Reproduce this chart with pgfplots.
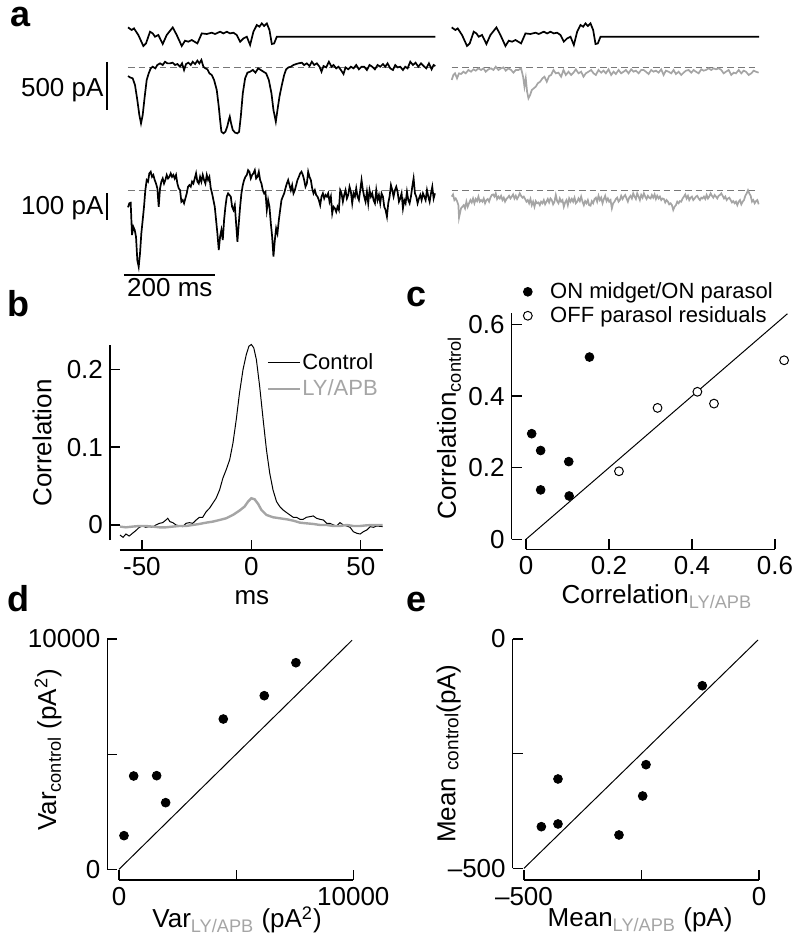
\documentclass[border=0pt]{standalone}
\usepackage{fontspec}
\setmainfont{Liberation Sans}
\usepackage{pgfplots}
\usepackage{pgfplotstable}
\pgfplotsset{compat=1.18}
\definecolor{ltgray}{RGB}{165,165,165}
\definecolor{dashgray}{RGB}{120,120,120}
\newcommand\lf{\fontsize{13}{15}\selectfont}

\pgfplotsset{
  fig/.style={
    scale only axis, anchor=south west, clip=false,
    axis lines=left,
    axis line style={-, line width=0.65pt},
    tick align=inside, major tick length=5pt,
    every tick/.style={black, line width=0.65pt},
    tick label style={font=\lf},
    /pgf/number format/assume math mode=true,
    scaled ticks=false,
  },
  xlab/.style={every axis x label/.style={at={(axis description cs:#1)}, anchor=center, font=\lf}},
  ylab/.style={every axis y label/.style={at={(axis description cs:#1)}, anchor=center, rotate=90, font=\lf}},
  trace/.style={hide axis, clip=false, anchor=south west, x=0.2275pt},
  base/.style={dashgray, line width=0.6pt, dash pattern=on 3.3pt off 2pt},
}

% stimulus (arbitrary units), same for both conditions
\pgfplotstableread{
t s
0 9.3
8.1 6.7
13.2 8.3
22.7 1.7
33.7 -9.3
39.6 -6.7
48.4 5
54.3 3.3
59.4 0
66.7 1.7
76.3 -7.3
85.1 1.7
98.3 9.3
107.1 1.7
118.1 -9.3
125.4 -4
132.7 -5
140.1 -3.3
152.5 -6.7
162.1 3.3
173.1 2.7
184.1 4
191.4 2.7
202.4 5
209.7 3.3
217.1 5
224.4 3.3
231.7 4
239.1 1.7
246.4 -5
253.7 -1.7
261.1 0
268.4 -8.3
275.7 5
283.1 11.7
288.9 10
294.1 13.3
299.2 10.7
305.1 13.3
310.9 6.7
316.1 -7.3
321.2 -6.7
327.1 0
675.4 0
}\stimtable

\begin{document}
\begin{tikzpicture}
\begin{scope}[x=0.5pt,y=-0.5pt]
\path[use as bounding box] (0,0) rectangle (800,943);
\foreach \l/\xx/\yy in {a/21/17,b/18/304,c/417/297,d/18/599,e/417/602}
  \node[font=\bfseries\fontsize{18}{18}\selectfont] at (\xx,\yy) {\l};
\end{scope}

% ---------- panel a: stimulus ----------
\begin{axis}[trace, y=0.5pt, at={(64pt,-25.85pt)}, xmin=0, xmax=676, ymin=-15, ymax=15]
\addplot[black, line width=0.85pt] table {\stimtable};
\end{axis}
\begin{axis}[trace, y=0.5pt, at={(225.85pt,-25.85pt)}, xmin=0, xmax=676, ymin=-15, ymax=15]
\addplot[black, line width=0.85pt] table {\stimtable};
\end{axis}

% ---------- panel a: ON midget, control / LY-APB ----------
\begin{axis}[trace, y=0.048pt, at={(50.35pt,-68.4pt)}, xmin=-60, xmax=680, ymin=-720, ymax=100]
\addplot[base] coordinates {(0,0) (675,0)};
\addplot[black, line width=0.85pt] coordinates {
(0,-87)(4.4,-101)(10.3,-111)(15.4,-181)(20.5,-337)(24.9,-493)(28.6,-580)(32.3,-493)(36.7,-302)(41.1,-128)
(45.5,-59)(49.9,-7)(54.3,10)(60.1,-7)(64.5,28)(70.4,45)(76.3,28)(81.4,62)(86.5,45)(92.4,45)(98.3,52)
(103.4,28)(108.5,38)(114.4,10)(118.8,45)(123.2,-24)(127.6,38)(132.7,52)(137.9,28)(142.3,62)(147.4,38)
(152.5,73)(156.9,45)(161.3,80)(165.7,10)(170.1,-7)(174.5,-17)(178.9,-59)(184.1,-76)(189.2,-128)(195.1,-233)
(199.5,-406)(202.4,-545)(205.3,-667)(209.7,-684)(214.1,-667)(218.5,-608)(221.5,-545)(223.7,-510)(226.6,-580)
(230.3,-649)(235.4,-677)(240.5,-684)(244.2,-667)(247.9,-510)(252.3,-267)(257.4,-111)(262.5,-52)(268.4,-42)
(274.3,-24)(280.1,-52)(286,-7)(291.9,-24)(297.7,-42)(303.6,-59)(309.5,-128)(315.3,-267)(319.7,-441)
(324.9,-562)(328.5,-441)(332.9,-302)(338.1,-181)(343.2,-76)(347.6,-17)(352.7,3)(357.9,10)(363.7,28)
(369.6,38)(374.7,45)(382.1,52)(387.2,28)(393.1,45)(398.9,17)(404.1,62)(409.2,28)(415.1,45)(420.9,10)
(425.3,-42)(429.7,17)(435.6,3)(441.5,62)(447.3,10)(451.7,28)(457.6,-7)(462.7,10)(467.9,-24)(473.7,-66)
(478.1,3)(484,-17)(489.9,10)(495.7,-7)(501.6,28)(507.5,-17)(513.3,10)(519.2,10)(525.1,-24)(530.9,28)
(536.8,10)(542.7,-17)(548.5,28)(554.4,10)(560.3,38)(565.4,10)(570.5,45)(576.4,-7)(582.3,-24)(587.4,28)
(592.5,3)(598.4,10)(604.3,-24)(609.4,10)(614.5,-7)(620.4,62)(626.3,28)(632.1,52)(638,10)(643.9,45)
(649.7,17)(655.6,-7)(661.4,45)(667.3,-17)(671.7,28)(675.4,17)};
\draw[line width=0.7pt] (axis cs:-46,60) -- (axis cs:-46,-440);
\node[anchor=east, inner sep=0pt, font=\lf] at (axis cs:-53,-232) {500 pA};
\end{axis}
\begin{axis}[trace, y=0.048pt, at={(225.85pt,-68.4pt)}, xmin=0, xmax=680, ymin=-720, ymax=100]
\addplot[base] coordinates {(0,0) (675,0)};
\addplot[ltgray, line width=0.85pt] coordinates {
(0,-128)(3.7,-76)(7.3,-59)(11.7,-111)(16.1,-59)(20.5,-66)(25.7,-42)(30.8,-59)(36.7,-24)(42.5,-42)
(47.7,-17)(52.8,-31)(58.7,-7)(64.5,-24)(69.7,-7)(74.8,-42)(80.7,-17)(86.5,-7)(91.7,-24)(96.8,10)
(102.7,-24)(108.5,-7)(113.7,3)(118.8,-31)(124.7,-7)(130.5,-24)(135.7,-52)(140.8,-24)(146.7,-24)(152.5,-7)
(156.9,-94)(159.9,-198)(162.8,-111)(165.7,-250)(168.7,-319)(172.3,-285)(176,-233)(180.4,-215)(184.8,-198)
(189.2,-163)(194.3,-146)(199.5,-111)(203.9,-94)(209,-146)(214.1,-87)(218.5,-76)(223.7,-24)(228.8,-59)
(234.7,-52)(240.5,-94)(245.7,-24)(250.8,-76)(256.7,-42)(262.5,-76)(267.7,-52)(272.8,-17)(278.7,-59)
(284.5,-42)(289.7,-94)(294.8,-59)(300.7,-42)(306.5,-24)(311.7,-59)(316.8,-76)(322.7,-24)(328.5,-52)
(333.7,-31)(338.8,-59)(344.7,-17)(350.5,-76)(355.7,-42)(360.8,-66)(366.7,-24)(372.5,-59)(377.7,-42)
(382.8,-24)(388.7,-59)(394.5,-17)(399.7,-42)(404.8,-31)(410.7,-59)(416.5,-24)(421.7,-24)(426.8,-42)
(432.7,-66)(438.5,-24)(443.7,-42)(448.8,-31)(454.7,-52)(460.5,-17)(465.7,-76)(470.8,-31)(476.7,-42)
(482.5,-59)(487.7,-24)(492.8,-66)(498.7,-42)(504.5,-76)(509.7,-52)(514.8,-31)(520.7,-24)(526.5,-52)
(531.7,-24)(536.8,-42)(542.7,-59)(548.5,-17)(553.7,-31)(558.8,-24)(564.7,-7)(570.5,-24)(575.7,-7)
(580.8,-17)(586.7,-7)(592.5,-24)(597.7,-59)(602.8,-42)(608.7,-24)(614.5,-76)(619.7,-52)(624.8,-59)
(630.7,-24)(636.5,-59)(641.7,-31)(646.8,-42)(652.7,-76)(658.5,-59)(663.7,-31)(668.8,-42)(674.7,-52)};
\end{axis}

% ---------- panel a: OFF parasol, control / LY-APB ----------
\begin{axis}[trace, y=0.1335pt, at={(50.35pt,-140.75pt)}, xmin=-60, xmax=680, ymin=-340, ymax=100]
\addplot[base] coordinates {(0,0) (675,0)};
\addplot[black, line width=0.85pt] coordinates {
(0,-62)(2.9,-47)(5.9,-45)(8.8,-166)(11.7,-135)(14.7,-147)(17.6,-172)(20.5,-260)(23.5,-285)(26.4,-235)
(29.3,-160)(32.3,-110)(35.2,-60)(38.1,2)(41.1,40)(44,34)(46.9,65)(49.9,71)(52.8,52)(55.7,59)
(58.7,40)(61.6,27)(64.5,9)(67.5,-60)(70.4,9)(73.3,34)(76.3,46)(79.2,27)(82.1,40)(85.1,59)
(88,46)(90.9,52)(93.9,65)(96.8,52)(99.7,59)(102.7,46)(105.6,59)(108.5,27)(111.5,9)(114.4,2)
(117.3,-41)(120.3,-35)(123.2,-47)(126.1,-29)(129.1,-10)(132,15)(134.9,21)(137.9,15)(140.8,34)(143.7,27)
(146.7,46)(149.6,65)(152.5,34)(155.5,27)(158.4,52)(161.3,34)(164.3,59)(167.2,40)(170.1,27)(173.1,59)
(176,40)(178.9,52)(181.9,9)(184.8,-10)(187.7,-35)(190.7,-60)(193.6,-110)(196.5,-160)(199.5,-222)(202.4,-172)
(205.3,-147)(208.3,-185)(211.2,-110)(214.1,-60)(217.1,-22)(220,-10)(222.9,-16)(225.9,-22)(228.8,-60)(231.7,-72)
(234.7,-54)(237.6,-122)(240.5,-191)(243.5,-122)(246.4,-60)(249.3,-10)(252.3,21)(255.2,40)(258.1,52)(261.1,59)
(264,77)(266.9,71)(269.9,46)(272.8,59)(275.7,65)(278.7,77)(281.6,46)(284.5,52)(287.5,71)(290.4,40)
(293.3,27)(296.3,2)(299.2,-10)(302.1,-4)(305.1,-72)(308,-35)(310.9,-60)(313.9,-122)(316.8,-172)(319.7,-247)
(322.7,-185)(325.6,-141)(328.5,-160)(331.5,-110)(334.4,-72)(337.3,-35)(340.3,-22)(343.2,-10)(346.1,9)(349.1,27)
(352,40)(354.9,21)(357.9,2)(360.8,21)(363.7,-10)(366.7,2)(369.6,21)(372.5,40)(375.5,52)(378.4,65)
(381.3,71)(384.3,59)(387.2,40)(390.1,15)(393.1,27)(396,71)(398.9,52)(401.9,40)(404.8,9)(407.7,-10)
(410.7,2)(413.6,-16)(416.5,-22)(419.5,-35)(422.4,-54)(425.3,-22)(428.3,-10)(431.2,-29)(434.1,-16)(437.1,-22)
(440,-10)(442.9,-41)(445.9,-22)(448.8,-85)(451.7,-60)(454.7,-66)(457.6,-79)(460.5,-60)(463.5,-72)(466.4,2)
(469.3,-10)(472.3,-41)(475.2,-16)(478.1,2)(481.1,-29)(484,-16)(486.9,15)(489.9,-4)(492.8,-47)(495.7,-10)
(498.7,-22)(501.6,9)(504.5,-22)(507.5,-35)(510.4,2)(513.3,40)(516.3,2)(519.2,-22)(522.1,-41)(525.1,-4)
(528,-47)(530.9,2)(533.9,-22)(536.8,-10)(539.7,-35)(542.7,-47)(545.6,2)(548.5,-35)(551.5,-16)(554.4,-47)
(557.3,-10)(560.3,-22)(563.2,-60)(566.1,-72)(569.1,-97)(572,-47)(574.9,-22)(577.9,21)(580.8,2)(583.7,-22)
(586.7,2)(589.6,15)(592.5,-4)(595.5,-41)(598.4,-29)(601.3,-10)(604.3,-66)(607.2,-35)(610.1,-47)(613.1,-4)
(616,-35)(618.9,-47)(621.9,-22)(624.8,15)(627.7,46)(630.7,-10)(633.6,-22)(636.5,-47)(639.5,-29)(642.4,-16)
(645.3,-35)(648.3,-10)(651.2,-22)(654.1,-35)(657.1,2)(660,-22)(662.9,-41)(665.9,-10)(668.8,15)(671.7,-29)
(674.7,-10)};
\draw[line width=0.7pt] (axis cs:-46,-9) -- (axis cs:-46,-109);
\node[anchor=east, inner sep=0pt, font=\lf] at (axis cs:-53,-65) {100 pA};
\draw[line width=0.7pt] (axis cs:-9,-316) -- (axis cs:191,-316);
\node[font=\lf] at (axis cs:92,-364) {200 ms};
\end{axis}
\begin{axis}[trace, y=0.1335pt, at={(225.85pt,-140.75pt)}, xmin=0, xmax=680, ymin=-340, ymax=100]
\addplot[base] coordinates {(0,0) (675,0)};
\addplot[ltgray, line width=0.85pt] coordinates {
(0,-22)(2.9,-14)(5.9,-35)(8.8,-29)(11.7,-39)(14.7,-54)(16.1,-101)(20.5,-66)(23.5,-60)(26.4,-54)
(29.3,-66)(32.3,-41)(35.2,-60)(38.1,-47)(41.1,-35)(44,-44)(46.9,-29)(49.9,-47)(52.8,-31)(55.7,-39)
(58.7,-22)(61.6,-41)(64.5,-35)(67.5,-41)(70.4,-29)(73.3,-47)(76.3,-35)(79.2,-31)(82.1,-41)(85.1,-26)
(88,-16)(90.9,-14)(93.9,-22)(96.8,-10)(99.7,-31)(102.7,-22)(105.6,-29)(108.5,-19)(111.5,-35)(114.4,-26)
(117.3,-41)(120.3,-31)(123.2,-26)(126.1,-19)(129.1,-29)(132,-22)(134.9,-14)(137.9,-29)(140.8,-19)(143.7,-31)
(146.7,-22)(149.6,-10)(152.5,-19)(155.5,-26)(158.4,-22)(161.3,-31)(164.3,-41)(167.2,-35)(170.1,-47)(173.1,-31)
(176,-54)(178.9,-41)(181.9,-60)(184.8,-39)(187.7,-47)(190.7,-44)(193.6,-54)(196.5,-41)(199.5,-47)(202.4,-35)
(205.3,-51)(208.3,-41)(211.2,-31)(214.1,-44)(217.1,-29)(220,-35)(222.9,-51)(225.9,-41)(228.8,-16)(231.7,-39)
(234.7,-47)(237.6,-29)(240.5,-41)(243.5,-35)(246.4,-60)(249.3,-44)(252.3,-35)(255.2,-54)(258.1,-29)(261.1,-41)
(264,-31)(266.9,-41)(269.9,-26)(272.8,-47)(275.7,-41)(278.7,-29)(281.6,-39)(284.5,-22)(287.5,-41)(290.4,-54)
(293.3,-39)(296.3,-47)(299.2,-35)(302.1,-54)(305.1,-56)(308,-39)(310.9,-47)(313.9,-31)(316.8,-26)(319.7,-41)
(322.7,-19)(325.6,-35)(328.5,-26)(331.5,-47)(334.4,-31)(337.3,-19)(340.3,-39)(343.2,-29)(346.1,-41)(349.1,-35)
(352,-66)(354.9,-47)(357.9,-41)(360.8,-31)(363.7,-26)(366.7,-41)(369.6,-35)(372.5,-19)(375.5,-31)(378.4,-22)
(381.3,-16)(384.3,-29)(387.2,-41)(390.1,-26)(393.1,-19)(396,-29)(398.9,-10)(401.9,-22)(404.8,-31)(407.7,-10)
(410.7,-22)(413.6,-35)(416.5,-16)(419.5,-26)(422.4,-10)(425.3,-22)(428.3,-31)(431.2,-19)(434.1,-26)(437.1,-29)
(440,-16)(442.9,-26)(445.9,-14)(448.8,-31)(451.7,-19)(454.7,-29)(457.6,-22)(460.5,-35)(463.5,-29)(466.4,-31)
(469.3,-44)(472.3,-35)(475.2,-41)(478.1,-51)(481.1,-47)(484,-54)(486.9,-72)(489.9,-60)(492.8,-54)(495.7,-41)
(498.7,-47)(501.6,-39)(504.5,-41)(507.5,-29)(510.4,-22)(513.3,-14)(516.3,-29)(519.2,-19)(522.1,-35)(525.1,-26)
(528,-22)(530.9,-35)(533.9,-29)(536.8,-22)(539.7,-19)(542.7,-29)(545.6,-35)(548.5,-26)(551.5,-29)(554.4,-22)
(557.3,-31)(560.3,-16)(563.2,-29)(566.1,-22)(569.1,-10)(572,-19)(574.9,-26)(577.9,-16)(580.8,-22)(583.7,-29)
(586.7,-19)(589.6,-16)(592.5,-10)(595.5,-19)(598.4,-29)(601.3,-22)(604.3,-35)(607.2,-29)(610.1,-26)(613.1,-35)
(616,-44)(618.9,-39)(621.9,-47)(624.8,-41)(627.7,-54)(630.7,-41)(633.6,-35)(636.5,-51)(639.5,-41)(642.4,-35)
(645.3,-19)(648.3,-10)(651.2,2)(654.1,-10)(657.1,-19)(660,-41)(662.9,-35)(665.9,-47)(668.8,-39)(671.7,-35)
(674.7,-51)};
\end{axis}

% ---------- panel b ----------
\begin{axis}[fig, at={(60pt,-270pt)}, width=131.35pt, height=97.5pt,
  xmin=-60, xmax=60, ymin=-0.0193, ymax=0.231,
  axis x line shift=5pt, axis y line shift=5pt,
  xtick={-50,0,50}, ytick={0,0.1,0.2},
  xlabel={ms}, ylabel={Correlation},
  xlab={0.502,-0.297}, ylab={-0.297,0.497},
  legend style={at={(axis description cs:0.557,0.965)}, anchor=north west, draw=none, fill=none,
    font=\fontsize{11}{11}\selectfont, row sep=2.5pt, inner sep=0pt, nodes={inner sep=0.6pt}},
  legend image code/.code={\draw[#1] (0pt,0pt) -- (16pt,0pt);},
  legend cell align=left]
\addplot[black, line width=0.5pt] coordinates {
(-60,-0.0129)(-58.6,-0.0159)(-57.3,-0.0116)(-55.8,-0.0142)(-54.3,-0.0107)(-52.8,-0.0073)(-51.2,-0.0030)
(-49.7,-0.0013)(-48.2,-0.0030)(-46.6,-0.0021)(-45.1,-0.0030)(-43.6,0)(-42.0,0.0021)(-40.5,0.0030)
(-39.0,0.0064)(-38.2,0.0086)(-37.2,0.0043)(-35.9,0.0030)(-34.4,0)(-32.9,-0.0013)(-31.3,-0.0021)
(-29.8,0.0021)(-28.3,0.0030)(-26.8,0.0021)(-25.2,0.0064)(-23.7,0.0099)(-22.2,0.0099)(-20.6,0.0172)
(-19.1,0.0215)(-17.6,0.0279)(-16.1,0.0343)(-14.5,0.0450)(-13.0,0.0601)(-11.5,0.0708)(-9.9,0.0837)
(-8.4,0.1051)(-6.9,0.1351)(-5.4,0.1695)(-3.8,0.1995)(-2.3,0.2188)(-1.1,0.2295)(0,0.2317)(1.1,0.2274)
(2.3,0.2124)(3.8,0.1780)(5.4,0.1351)(6.9,0.0965)(8.4,0.0665)(9.9,0.0450)(11.5,0.0300)(13.0,0.0236)
(14.5,0.0193)(16.1,0.0159)(17.6,0.0129)(19.1,0.0099)(20.6,0.0099)(22.2,0.0073)(23.7,0.0073)(25.2,0.0099)
(26.8,0.0107)(28.3,0.0116)(29.8,0.0086)(31.3,0.0073)(32.9,0.0064)(34.4,0.0021)(35.9,0.0021)(37.5,0)
(39.0,-0.0013)(40.5,0.0030)(42.0,0)(43.6,-0.0013)(45.1,-0.0030)(46.6,-0.0086)(48.2,-0.0107)(49.7,-0.0116)
(51.2,-0.0086)(52.8,-0.0064)(54.3,-0.0021)(55.8,-0.0030)(57.3,-0.0013)(60,-0.0021)};
\addlegendentry{Control}
\addplot[ltgray, line width=1.2pt] coordinates {
(-60,-0.0021)(-57.3,-0.0030)(-54.3,-0.0021)(-51.2,-0.0013)(-48.2,-0.0013)(-45.1,-0.0021)(-42.0,-0.0030)
(-39.0,-0.0030)(-35.9,-0.0021)(-32.9,-0.0013)(-29.8,-0.0013)(-26.8,0)(-23.7,0.0013)(-20.6,0.0030)
(-17.6,0.0043)(-14.5,0.0064)(-11.5,0.0086)(-8.4,0.0129)(-5.4,0.0185)(-3.1,0.0236)(-1.5,0.0300)(0,0.0343)
(1.5,0.0330)(3.1,0.0270)(4.6,0.0193)(6.9,0.0129)(9.9,0.0099)(13.0,0.0086)(16.1,0.0073)(19.1,0.0056)
(22.2,0.0030)(25.2,0.0021)(28.3,0.0013)(31.3,0)(34.4,0)(37.5,-0.0013)(40.5,-0.0013)(43.6,0)(46.6,-0.0013)
(49.7,-0.0013)(52.8,-0.0004)(55.8,0)(60,0)};
\addlegendentry{\textcolor{ltgray}{LY/APB}}
\end{axis}

% ---------- panel c ----------
\begin{axis}[fig, at={(263pt,-269.65pt)}, width=124.5pt, height=113.15pt,
  xmin=0, xmax=0.6, ymin=0, ymax=0.632,
  axis x line shift=5pt, axis y line shift=7.2pt,
  xtick={0,0.2,0.4,0.6}, ytick={0,0.2,0.4,0.6},
  xlabel={Correlation\textsubscript{\textcolor{ltgray}{LY/APB}}},
  ylabel={Correlation\textsubscript{control}},
  xlab={0.526,-0.255}, ylab={-0.309,0.492},
  legend style={at={(axis description cs:-0.012,1.155)}, anchor=north west, draw=none, fill=none,
    font=\fontsize{11}{11}\selectfont, row sep=-1.5pt, column sep=7pt, inner sep=0pt},
  legend cell align=left]
\addplot[black, line width=0.5pt, forget plot] coordinates {(0,0) (0.63,0.63)};
\addplot[only marks, mark=*, mark size=2.2pt, black] coordinates {
(0.0137,0.295)(0.0353,0.248)(0.0353,0.138)(0.103,0.217)(0.104,0.121)(0.153,0.509)};
\addlegendentry{ON midget/ON parasol}
\addplot[only marks, mark=*, mark size=2.2pt, mark options={fill=white, draw=black, line width=0.5pt}] coordinates {
(0.224,0.190)(0.317,0.367)(0.413,0.412)(0.453,0.379)(0.622,0.500)};
\addlegendentry{OFF parasol residuals}
\end{axis}

% ---------- panel d ----------
\begin{axis}[fig, at={(59.5pt,-434.65pt)}, width=117.15pt, height=115.15pt,
  xmin=0, xmax=10000, ymin=0, ymax=10000,
  axis x line shift=5.35pt, axis y line shift=5.85pt,
  xtick={0,5000,10000}, xticklabels={0,,10000},
  ytick={0,5000,10000}, yticklabels={0,,10000},
  xlabel={Var\textsubscript{\textcolor{ltgray}{LY/APB}} (pA\textsuperscript{2})},
  ylabel={Var\textsubscript{control} (pA\textsuperscript{2})},
  xlab={0.504,-0.22}, ylab={-0.303,0.518}]
\addplot[black, line width=0.5pt] coordinates {(0,0) (9950,9950)};
\addplot[only marks, mark=*, mark size=2.2pt, black] coordinates {
(213,1461)(626,4052)(1607,4066)(1991,2894)(4451,6526)(6200,7539)(7551,8971)};
\end{axis}

% ---------- panel e ----------
\begin{axis}[fig, at={(262pt,-434.15pt)}, width=117.5pt, height=114.65pt,
  xmin=-500, xmax=0, ymin=-500, ymax=0,
  axis x line shift=5.85pt, axis y line shift=5.65pt,
  xtick={-500,-250,0}, xticklabels={--500,,0},
  ytick={-500,-250,0}, yticklabels={--500,,0},
  xlabel={Mean\textsubscript{\textcolor{ltgray}{LY/APB}} (pA)},
  ylabel={Mean \raisebox{-1.5pt}{\fontsize{9.5}{9.5}\selectfont control}(pA)},
  xlab={0.494,-0.225}, ylab={-0.321,0.5}]
\addplot[black, line width=0.5pt] coordinates {(-500,-500) (-2,-2)};
\addplot[only marks, mark=*, mark size=2.2pt, black] coordinates {
(-120.6,-101.8)(-427.7,-305.2)(-240.4,-274.0)(-247.5,-342.3)(-463.1,-409.2)(-427.7,-403.3)(-297.9,-427.3)};
\end{axis}
\end{tikzpicture}
\end{document}
